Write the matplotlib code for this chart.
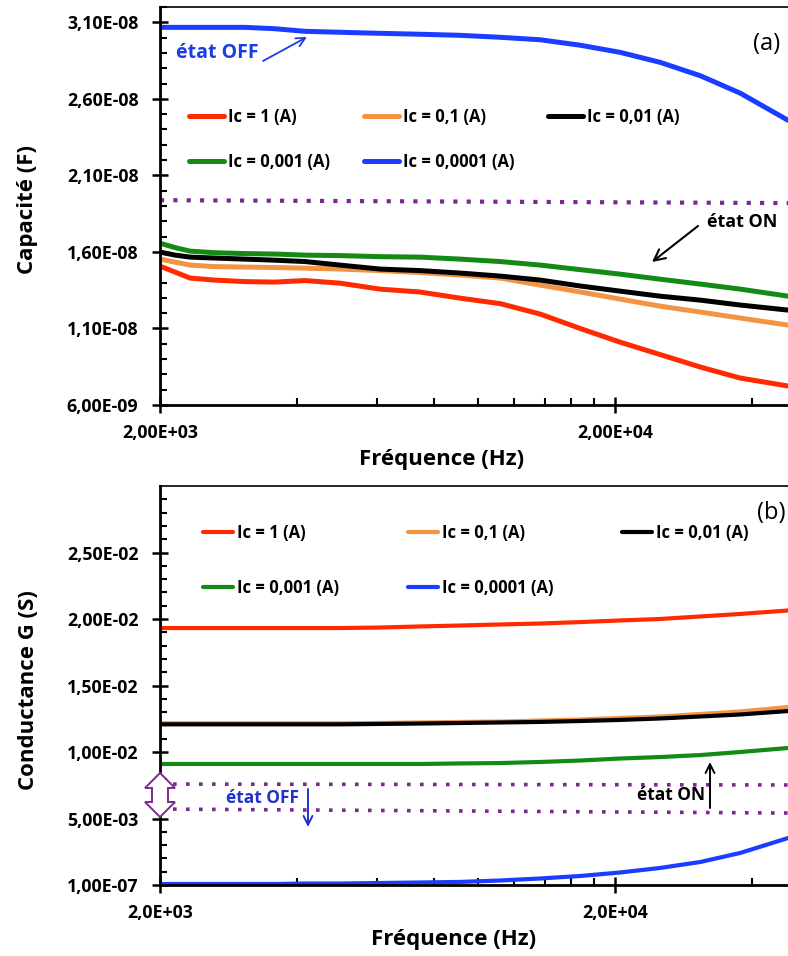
import matplotlib
matplotlib.use("Agg")
import matplotlib.pyplot as plt
from matplotlib.ticker import FixedLocator, FuncFormatter, NullFormatter, MultipleLocator
from matplotlib.patches import Polygon

plt.rcParams['font.family'] = ['Open Sans', 'DejaVu Sans']

# ---------------- data ----------------
freq = [2000, 2160, 2330, 2640, 3080, 3580, 4170, 4970, 6090, 7460, 9130,
        11200, 13700, 16800, 20500, 25100, 30800, 37700, 48000]

# panel (a) capacitance (F)
cap_1 = [15.07e-9, 14.68e-9, 14.29e-9, 14.16e-9, 14.06e-9, 14.03e-9, 14.13e-9, 13.96e-9, 13.57e-9, 13.38e-9,
         12.98e-9, 12.62e-9, 11.94e-9, 10.99e-9, 10.11e-9, 9.30e-9, 8.48e-9, 7.76e-9, 7.24e-9]
cap_01 = [15.53e-9, 15.33e-9, 15.14e-9, 15.04e-9, 15.01e-9, 14.98e-9, 14.94e-9, 14.88e-9, 14.78e-9, 14.65e-9,
          14.49e-9, 14.29e-9, 13.83e-9, 13.38e-9, 12.92e-9, 12.46e-9, 12.07e-9, 11.68e-9, 11.22e-9]
cap_001 = [15.99e-9, 15.79e-9, 15.66e-9, 15.60e-9, 15.53e-9, 15.46e-9, 15.37e-9, 15.14e-9, 14.88e-9, 14.78e-9,
           14.62e-9, 14.42e-9, 14.16e-9, 13.77e-9, 13.44e-9, 13.11e-9, 12.85e-9, 12.53e-9, 12.20e-9]
cap_0001 = [16.57e-9, 16.28e-9, 16.05e-9, 15.95e-9, 15.89e-9, 15.86e-9, 15.79e-9, 15.76e-9, 15.69e-9, 15.66e-9,
            15.53e-9, 15.37e-9, 15.14e-9, 14.84e-9, 14.55e-9, 14.22e-9, 13.90e-9, 13.57e-9, 13.11e-9]
cap_00001 = [30.67e-9, 30.67e-9, 30.67e-9, 30.67e-9, 30.67e-9, 30.58e-9, 30.41e-9, 30.35e-9, 30.28e-9, 30.22e-9,
             30.15e-9, 30.02e-9, 29.86e-9, 29.50e-9, 29.04e-9, 28.39e-9, 27.51e-9, 26.37e-9, 24.60e-9]
cap_ref_f = [2000, 48000]
cap_ref = [1.938e-8, 1.919e-8]

# panel (b) conductance (S)
g_1 = [19.32e-3, 19.32e-3, 19.32e-3, 19.32e-3, 19.32e-3, 19.32e-3, 19.32e-3, 19.32e-3, 19.36e-3, 19.44e-3,
       19.51e-3, 19.59e-3, 19.66e-3, 19.77e-3, 19.89e-3, 20.00e-3, 20.19e-3, 20.38e-3, 20.64e-3]
g_01 = [12.16e-3, 12.16e-3, 12.16e-3, 12.16e-3, 12.16e-3, 12.16e-3, 12.16e-3, 12.16e-3, 12.18e-3, 12.22e-3,
        12.26e-3, 12.29e-3, 12.37e-3, 12.44e-3, 12.56e-3, 12.67e-3, 12.86e-3, 13.05e-3, 13.38e-3]
g_001 = [12.08e-3, 12.08e-3, 12.08e-3, 12.08e-3, 12.08e-3, 12.08e-3, 12.08e-3, 12.08e-3, 12.11e-3, 12.14e-3,
         12.18e-3, 12.22e-3, 12.26e-3, 12.33e-3, 12.41e-3, 12.52e-3, 12.67e-3, 12.82e-3, 13.08e-3]
g_0001 = [9.10e-3, 9.10e-3, 9.10e-3, 9.10e-3, 9.10e-3, 9.10e-3, 9.10e-3, 9.10e-3, 9.10e-3, 9.10e-3,
          9.14e-3, 9.17e-3, 9.25e-3, 9.36e-3, 9.51e-3, 9.62e-3, 9.77e-3, 10.00e-3, 10.30e-3]
g_00001 = [0.075e-3, 0.075e-3, 0.075e-3, 0.075e-3, 0.075e-3, 0.075e-3, 0.11e-3, 0.11e-3, 0.15e-3, 0.19e-3,
           0.23e-3, 0.34e-3, 0.49e-3, 0.68e-3, 0.94e-3, 1.28e-3, 1.73e-3, 2.41e-3, 3.53e-3]
g_ref_f = [2000, 48000]
g_ref_hi = [7.59e-3, 7.52e-3]
g_ref_lo = [5.71e-3, 5.41e-3]

labels = ['Ic = 1 (A)', 'Ic = 0,1 (A)', 'Ic = 0,01 (A)', 'Ic = 0,001 (A)', 'Ic = 0,0001 (A)']
colors = ['#FF2A00', '#F39445', '#000000', '#138A13', '#1A3DFF']
purple = '#7A2A8F'

xticks_major = [2000, 20000]
xticks_minor = [4000, 6000, 8000, 10000, 12000, 14000, 16000, 18000, 40000]
xlabels_a = ['2,00E+03', '2,00E+04']
xlabels_b = ['2,0E+03', '2,0E+04']

# ---------------- figure ----------------
W, H = 788, 956
fig = plt.figure(figsize=(W / 100, H / 100), dpi=100)

L, R = 160, 788
A_T, A_B = 7, 405
B_T, B_B = 486, 885

def box(top, bot):
    return [L / W, 1 - bot / H, (R - L) / W, (bot - top) / H]

axA = fig.add_axes(box(A_T, A_B))
axB = fig.add_axes(box(B_T, B_B))

def fmt(v, pos):
    return ('%.2E' % v).replace('.', ',')

TICK_FS = 12.8
for ax in (axA, axB):
    ax.set_xscale('log')
    ax.set_xlim(2000, 48000)
    ax.spines['right'].set_visible(False)
    for s in ('left', 'bottom'):
        ax.spines[s].set_linewidth(2.0)
    ax.spines['top'].set_linewidth(1.2)
    ax.xaxis.set_major_locator(FixedLocator(xticks_major))
    ax.xaxis.set_minor_locator(FixedLocator(xticks_minor))
    ax.xaxis.set_minor_formatter(NullFormatter())
    ax.tick_params(which='major', direction='inout', length=11, width=1.8, labelsize=TICK_FS, pad=10)
    ax.tick_params(which='minor', direction='in', length=5, width=1.5)
    ax.tick_params(axis='x', which='major', pad=8)

def style(line):
    line.set_solid_capstyle('round')
    line.set_solid_joinstyle('round')

# panel (a)
lw_a = 3.6
for ys, c, lab in zip([cap_1, cap_01, cap_001, cap_0001, cap_00001], colors, labels):
    ln, = axA.plot(freq, ys, color=c, lw=lw_a, label=lab)
    style(ln)
axA.plot(cap_ref_f, cap_ref, color=purple, lw=3, linestyle=(0, (1, 2.2)))
axA.set_ylim(6e-9, 3.2e-8)
axA.yaxis.set_major_locator(FixedLocator([6e-9, 1.1e-8, 1.6e-8, 2.1e-8, 2.6e-8, 3.1e-8]))
axA.yaxis.set_minor_locator(MultipleLocator(1e-9))
axA.yaxis.set_major_formatter(FuncFormatter(fmt))
axA.set_xticklabels(xlabels_a)

# panel (b)
lw_b = 3.0
for ys, c, lab in zip([g_1, g_01, g_001, g_0001, g_00001], colors, labels):
    ln, = axB.plot(freq, ys, color=c, lw=lw_b, label=lab)
    style(ln)
axB.plot(g_ref_f, g_ref_hi, color=purple, lw=2.6, linestyle=(0, (1, 2.6)))
axB.plot(g_ref_f, g_ref_lo, color=purple, lw=2.6, linestyle=(0, (1, 2.6)))
axB.set_ylim(1e-7, 3.0e-2)
axB.yaxis.set_major_locator(FixedLocator([1e-7, 5e-3, 1e-2, 1.5e-2, 2e-2, 2.5e-2]))
axB.yaxis.set_minor_locator(FixedLocator([i * 1e-3 for i in range(1, 30) if i % 5 != 0]))
axB.yaxis.set_major_formatter(FuncFormatter(fmt))
axB.set_xticklabels(xlabels_b)

for ax in (axA, axB):
    for t in ax.get_xticklabels() + ax.get_yticklabels():
        t.set_fontweight('bold')
        t.set_fontsize(TICK_FS)

# legends (column-wise order so rows read like the reference)
order = [0, 3, 1, 4, 2]
LEG_FS = 12
for ax, colsp, labsp, hl in ((axA, 2.0, 1.6, 2.1), (axB, 4.1, 2.2, 1.8)):
    h, l = ax.get_legend_handles_labels()
    h = [h[i] for i in order]
    l = [l[i] for i in order]
    if ax is axA:
        anchor = ((189 - L) / (R - L), (A_B - 108) / (A_B - A_T))
    else:
        anchor = ((203 - L) / (R - L), (B_B - 524) / (B_B - B_T))
    ax.legend(h, l, ncol=3, loc='upper left', bbox_to_anchor=anchor,
              frameon=False, borderpad=0, borderaxespad=0,
              handlelength=hl, handletextpad=0.25, columnspacing=colsp,
              labelspacing=labsp, prop={'weight': 'bold', 'size': LEG_FS})

# axis labels
LAB_FS = 16
fig.text(442 / W, 1 - 460 / H, 'Fréquence (Hz)', ha='center', va='center', fontsize=LAB_FS, fontweight='bold')
fig.text(454 / W, 1 - 940 / H, 'Fréquence (Hz)', ha='center', va='center', fontsize=LAB_FS, fontweight='bold')
fig.text(28 / W, 1 - 210 / H, 'Capacité (F)', ha='center', va='center', rotation=90, fontsize=LAB_FS, fontweight='bold')
fig.text(28 / W, 1 - 690 / H, 'Conductance G (S)', ha='center', va='center', rotation=90, fontsize=LAB_FS, fontweight='bold')

def fa(x, y):
    return ((x - L) / (R - L), (A_B - y) / (A_B - A_T))

def fb(x, y):
    return ((x - L) / (R - L), (B_B - y) / (B_B - B_T))

# annotations panel (a)
axA.text(*fa(767, 44), '(a)', ha='center', va='center', fontsize=17, transform=axA.transAxes)
axA.text(*fa(217, 53), 'état OFF', ha='center', va='center', fontsize=14, fontweight='bold',
         color='#1A3DE0', transform=axA.transAxes)
axA.annotate('', xy=fa(307, 37), xytext=fa(263, 61), xycoords='axes fraction', textcoords='axes fraction',
             arrowprops=dict(arrowstyle='->', color='#1A3DE0', lw=1.3, mutation_scale=16, shrinkA=0, shrinkB=0))
axA.text(*fa(742, 222), 'état ON', ha='center', va='center', fontsize=13, fontweight='bold',
         color='black', transform=axA.transAxes)
axA.annotate('', xy=fa(652, 262), xytext=fa(698, 226), xycoords='axes fraction', textcoords='axes fraction',
             arrowprops=dict(arrowstyle='->', color='black', lw=1.5, mutation_scale=20, shrinkA=0, shrinkB=0))

# annotations panel (b)
axB.text(*fb(771, 513), '(b)', ha='center', va='center', fontsize=17, transform=axB.transAxes)
axB.text(*fb(263, 798), 'état OFF', ha='center', va='center', fontsize=12.5, fontweight='bold',
         color='#2233CC', transform=axB.transAxes)
axB.annotate('', xy=fb(308, 827), xytext=fb(308, 789), xycoords='axes fraction', textcoords='axes fraction',
             arrowprops=dict(arrowstyle='->', color='#2233CC', lw=1.4, mutation_scale=16, shrinkA=0, shrinkB=0))
axB.text(*fb(671, 795), 'état ON', ha='center', va='center', fontsize=12.5, fontweight='bold',
         color='black', transform=axB.transAxes)
axB.annotate('', xy=fb(710, 762), xytext=fb(710, 808), xycoords='axes fraction', textcoords='axes fraction',
             arrowprops=dict(arrowstyle='->', color='black', lw=1.4, mutation_scale=16, shrinkA=0, shrinkB=0))

# hollow double arrow
pts_px = [(160, 773), (175, 788), (168, 788), (168, 802), (175, 802), (160, 817),
          (145, 802), (152, 802), (152, 788), (145, 788)]
poly = Polygon([fb(x, y) for x, y in pts_px], closed=True, transform=axB.transAxes,
               facecolor='white', edgecolor=purple, lw=1.4, clip_on=False, zorder=5)
axB.add_patch(poly)

fig.savefig('out.png', dpi=100)
